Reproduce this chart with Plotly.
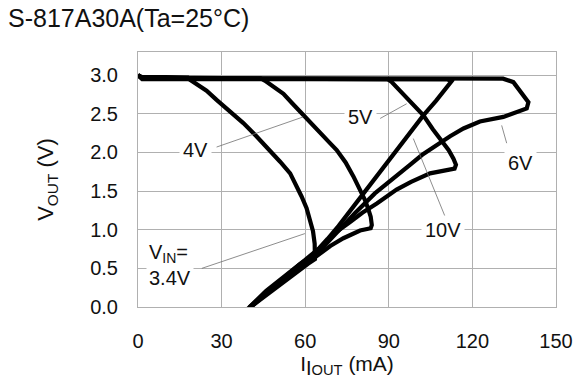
import plotly.graph_objects as go

# ---- data ----
x_ticks = [0, 30, 60, 90, 120, 150]
y_ticks = [0.0, 0.5, 1.0, 1.5, 2.0, 2.5, 3.0]

v34_x = [0, 1.5, 10, 17.9, 18.7, 24.6, 28.2, 33, 37.8, 42.5, 47.4, 51, 54.6, 57, 58.7, 60.5, 61.7, 62.8, 63.4, 63.5, 61, 57, 52, 46, 40]
v34_y = [3.0, 2.975, 2.975, 2.97, 2.94, 2.80, 2.68, 2.53, 2.38, 2.21, 2.03, 1.88, 1.73, 1.56, 1.43, 1.28, 1.13, 0.98, 0.82, 0.62, 0.56, 0.45, 0.31, 0.15, -0.01]

v4_x = [0, 1.5, 20, 44, 45.5, 48.5, 52.2, 55.5, 59.3, 64, 68.9, 71.3, 74.5, 77.3, 79.6, 81.5, 82.7, 83.5, 83.9, 83.5, 79.7, 73.7, 69, 65.3, 60, 53, 46, 40.5]
v4_y = [3.0, 2.965, 2.965, 2.96, 2.93, 2.86, 2.76, 2.63, 2.48, 2.30, 2.12, 2.03, 1.87, 1.69, 1.53, 1.38, 1.26, 1.17, 1.06, 1.02, 0.99, 0.89, 0.79, 0.69, 0.55, 0.35, 0.17, 0.0]

v5_x = [0, 1.5, 40, 89.5, 90.8, 96, 102.4, 105.8, 109, 111.5, 113.2, 114.1, 113.6, 109, 104.8, 98, 92.8, 85.7, 80.5, 76.1, 71.5, 67.7, 61.7, 55, 47, 40]
v5_y = [3.0, 2.955, 2.955, 2.95, 2.92, 2.73, 2.48, 2.30, 2.14, 2.03, 1.92, 1.84, 1.79, 1.76, 1.73, 1.62, 1.52, 1.34, 1.22, 1.10, 0.98, 0.85, 0.64, 0.45, 0.22, -0.01]

v6_x = [0, 1.5, 60, 131, 134.7, 137.5, 140.1, 139.5, 135, 131.1, 122.7, 116.8, 112, 107.2, 102, 97.6, 94, 90.4, 85, 78, 71, 65.5, 58, 50, 40]
v6_y = [3.0, 2.96, 2.96, 2.955, 2.91, 2.78, 2.65, 2.57, 2.51, 2.46, 2.40, 2.31, 2.21, 2.09, 1.97, 1.84, 1.73, 1.62, 1.47, 1.22, 0.96, 0.74, 0.55, 0.31, 0.0]

v10_x = [0, 1.5, 60, 111, 112.5, 111.2, 107, 102.4, 98.8, 95.2, 91.6, 88, 84, 80, 76, 72, 68, 65, 60, 52, 46, 39.5]
v10_y = [3.0, 2.95, 2.95, 2.945, 2.92, 2.86, 2.67, 2.48, 2.31, 2.14, 1.96, 1.79, 1.61, 1.42, 1.24, 1.05, 0.88, 0.76, 0.61, 0.39, 0.21, -0.02]

series = [
    ("VIN=3.4V", v34_x, v34_y),
    ("4V", v4_x, v4_y),
    ("5V", v5_x, v5_y),
    ("6V", v6_x, v6_y),
    ("10V", v10_x, v10_y),
]

# label text, label position, leader start, leader end (data units)
labels = [
    ("4V", 20.5, 2.03, 28.2, 2.07, 59.3, 2.46),
    ("5V", 79.7, 2.46, 86.9, 2.44, 96.4, 2.63),
    ("6V", 137.1, 1.86, 132.3, 2.12, 130.5, 2.35),
    ("10V", 109.6, 1.0, 110.2, 1.17, 98.8, 2.18),
]
vin_label = ("V<sub>IN</sub>=<br>3.4V", 3.0, 0.54, 22.9, 0.50, 59.9, 0.95)

fig = go.Figure()
for name, xs, ys in series:
    fig.add_trace(go.Scatter(x=xs, y=ys, mode="lines", name=name,
                             line=dict(color="black", width=4.2),
                             showlegend=False, hoverinfo="skip"))

grid = "#b0b0b0"
font = "Liberation Sans, Arial, sans-serif"

shapes = []
annotations = []
for txt, tx, ty, x0, y0, x1, y1 in labels + [vin_label]:
    shapes.append(dict(type="line", xref="x", yref="y", x0=x0, y0=y0, x1=x1, y1=y1,
                       line=dict(color="#707070", width=0.8), layer="above"))
for txt, tx, ty, *_ in labels:
    annotations.append(dict(x=tx, y=ty, xref="x", yref="y", text=txt, showarrow=False,
                            font=dict(size=20, color="#111", family=font),
                            bgcolor="white", borderpad=3))
t, tx, ty, *_ = vin_label
annotations.append(dict(x=tx, y=ty, xref="x", yref="y", text=t, showarrow=False,
                        xanchor="left", align="left",
                        font=dict(size=20, color="#111", family=font),
                        bgcolor="white", borderpad=2))

W, H = 587, 387
fig.update_layout(
    width=W, height=H,
    margin=dict(l=138, r=31, t=52, b=80, autoexpand=False),
    paper_bgcolor="white", plot_bgcolor="white",
    font=dict(family=font, color="#111", size=20),
    title=dict(text="S-817A30A(Ta=25°C)", x=8/W, xanchor="left", xref="container",
               y=1 - 18/H, yanchor="middle", yref="container", pad=dict(t=0, b=0, l=0, r=0),
               font=dict(size=25, family=font, color="#111")),
    shapes=shapes, annotations=annotations,
)
fig.update_xaxes(range=[0, 150], tickvals=x_ticks, ticktext=[str(v) for v in x_ticks],
                 showgrid=True, gridcolor=grid, gridwidth=1, automargin=False,
                 showline=True, linecolor=grid, linewidth=1, mirror=True,
                 zeroline=False, ticks="", ticklabelstandoff=16,
                 tickfont=dict(size=20, family=font, color="#111"),
                 title=dict(text="I<sub><span style='font-size:20px'>I</span>OUT</sub> (mA)",
                            font=dict(size=21, family=font, color="#111"), standoff=0))
fig.update_yaxes(range=[0, 3.3], tickvals=y_ticks, ticktext=[f"{v:.1f}" for v in y_ticks],
                 showgrid=True, gridcolor=grid, gridwidth=1, automargin=False,
                 showline=True, linecolor=grid, linewidth=1, mirror=True,
                 zeroline=False, ticks="", ticklabelstandoff=15,
                 tickfont=dict(size=20, family=font, color="#111"),
                 title=dict(text="V<sub>OUT</sub> (V)",
                            font=dict(size=22, family=font, color="#111"), standoff=30))

fig.write_html("out.html", config={"displayModeBar": False, "staticPlot": True},
               post_script="document.body.style.margin='0';document.body.style.overflow='hidden';")
